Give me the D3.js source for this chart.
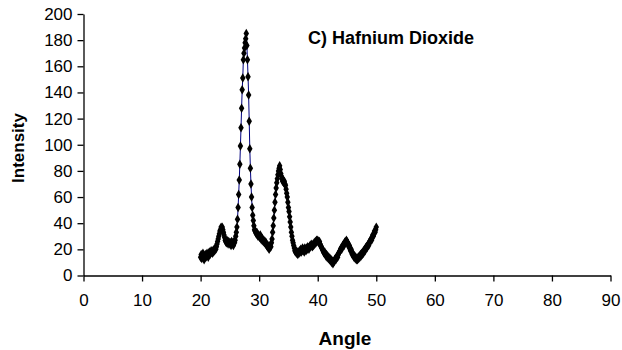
<!DOCTYPE html>
<html>
<head>
<meta charset="utf-8">
<script src="https://cdn.jsdelivr.net/npm/d3@7"></script>
<style>
  body { margin: 0; background: #fff; }
  svg { display: block; font-family: Arial, "Liberation Sans", sans-serif; }
</style>
</head>
<body>
<div id="chart"></div>
<script>
// angle starts at 20.0 and steps by 0.1 deg up to 50.0
const angleStart = 20.0;
const angleStep = 0.1;
const intensity = [
  14, 16, 13, 15, 17, 14, 12, 15, 16, 14,
  15, 17, 16, 14, 17, 18, 16, 17, 19, 18,
  17, 19, 18, 20, 19, 21, 20, 22, 24, 26,
  28, 30, 32, 34, 35, 37, 36, 37, 35, 33,
  31, 29, 27, 26, 25, 27, 26, 24, 26, 25,
  24, 25, 23, 26, 24, 25, 23, 26, 25, 27,
  30, 33, 37, 43, 52, 62, 73, 85, 99, 113,
  128, 142, 151, 165, 170, 174, 178, 181, 185, 176,
  165, 152, 138, 118, 97, 82, 70, 60, 52, 46,
  42, 38, 35, 34, 33, 32, 33, 31, 30, 31,
  30, 29, 31, 28, 29, 27, 28, 26, 27, 25,
  26, 24, 25, 23, 22, 23, 21, 20, 21, 23,
  22, 25, 28, 33, 38, 44, 50, 56, 62, 67,
  71, 74, 77, 80, 82, 84, 81, 78, 76, 74,
  72, 73, 71, 72, 70, 69, 66, 63, 60, 56,
  52, 49, 45, 41, 37, 33, 30, 27, 25, 23,
  21, 19, 18, 19, 17, 18, 16, 18, 17, 19,
  18, 20, 18, 19, 21, 19, 20, 18, 21, 20,
  19, 21, 20, 22, 21, 20, 22, 23, 22, 24,
  23, 22, 24, 23, 25, 24, 26, 25, 27, 26,
  27, 26, 25, 26, 24, 23, 22, 21, 20, 19,
  18, 17, 18, 16, 15, 16, 14, 15, 13, 14,
  12, 13, 11, 12, 10, 11, 9, 10, 11, 12,
  13, 12, 14, 15, 14, 16, 17, 18, 19, 20,
  21, 20, 22, 23, 24, 23, 25, 26, 25, 27,
  26, 25, 24, 22, 23, 21, 19, 20, 18, 16,
  17, 15, 14, 15, 13, 14, 12, 13, 12, 14,
  13, 15, 14, 16, 15, 17, 16, 18, 17, 19,
  20, 19, 21, 22, 21, 23, 24, 23, 25, 26,
  27, 28, 27, 29, 31, 30, 32, 34, 33, 35,
  37
];
const xTicks = [0, 10, 20, 30, 40, 50, 60, 70, 80, 90];
const yTicks = [0, 20, 40, 60, 80, 100, 120, 140, 160, 180, 200];

const width = 622, height = 350;
const margin = { top: 14, right: 11.5, bottom: 74.5, left: 83.5 };

const data = intensity.map((v, i) => ({ angle: angleStart + i * angleStep, value: v }));

const svg = d3.select('#chart').append('svg')
  .attr('width', width)
  .attr('height', height);

const x = d3.scaleLinear().domain([0, 90]).range([margin.left, width - margin.right]);
const y = d3.scaleLinear().domain([0, 200]).range([height - margin.bottom, margin.top]);

svg.append('g')
  .attr('class', 'axis axis-x')
  .attr('transform', `translate(0, ${height - margin.bottom})`)
  .call(d3.axisBottom(x).tickValues(xTicks).tickSize(6).tickPadding(12).tickSizeOuter(0))
  .call(g => g.selectAll('text').attr('font-size', 17).attr('fill', '#000'))
  .call(g => g.selectAll('line, path').attr('stroke', '#000').attr('stroke-width', 1.3));

svg.append('g')
  .attr('class', 'axis axis-y')
  .attr('transform', `translate(${margin.left}, 0)`)
  .call(d3.axisLeft(y).tickValues(yTicks).tickSize(6).tickPadding(5).tickSizeOuter(0))
  .call(g => g.selectAll('text').attr('font-size', 17).attr('fill', '#000'))
  .call(g => g.selectAll('line, path').attr('stroke', '#000').attr('stroke-width', 1.3));

const line = d3.line().x(d => x(d.angle)).y(d => y(d.value));

svg.append('path')
  .datum(data)
  .attr('fill', 'none')
  .attr('stroke', '#000080')
  .attr('stroke-width', 1)
  .attr('d', line);

svg.append('g')
  .attr('class', 'markers')
  .selectAll('path')
  .data(data)
  .enter()
  .append('path')
  .attr('transform', d => `translate(${x(d.angle)}, ${y(d.value)})`)
  .attr('d', d3.symbol().type(d3.symbolDiamond).size(26))
  .attr('fill', '#000');

svg.append('text')
  .attr('x', 308)
  .attr('y', 44)
  .attr('font-size', 18)
  .attr('font-weight', 'bold')
  .text('C) Hafnium Dioxide');

svg.append('text')
  .attr('x', 345)
  .attr('y', 345)
  .attr('text-anchor', 'middle')
  .attr('font-size', 19)
  .attr('font-weight', 'bold')
  .text('Angle');

svg.append('text')
  .attr('transform', 'translate(24, 148) rotate(-90)')
  .attr('text-anchor', 'middle')
  .attr('font-size', 17)
  .attr('font-weight', 'bold')
  .text('Intensity');
</script>
</body>
</html>
